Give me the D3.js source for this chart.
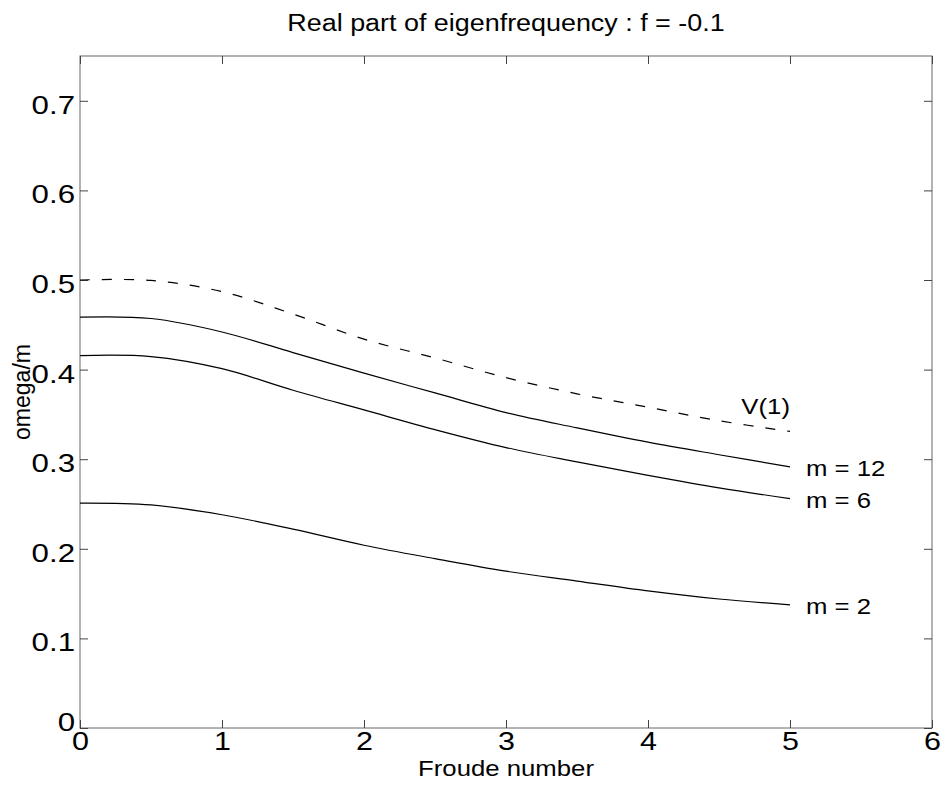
<!DOCTYPE html>
<html>
<head>
<meta charset="utf-8">
<script src="https://d3js.org/d3.v7.min.js"></script>
<style>
  body { margin: 0; background: #fff; }
  svg { display: block; }
  text { font-family: "Liberation Sans", Arial, Helvetica, sans-serif; fill: #000; }
</style>
</head>
<body>
<svg id="chart" width="942" height="791"></svg>
<script>
// values
const froude = [0, 0.5, 1, 1.5, 2, 2.5, 3, 3.5, 4, 4.5, 5];
const v1   = [0.500, 0.4995, 0.487, 0.462, 0.434, 0.413, 0.391, 0.373, 0.358, 0.343, 0.331];
const m12  = [0.4585, 0.457, 0.442, 0.419, 0.396, 0.374, 0.352, 0.335, 0.319, 0.305, 0.2915];
const m6   = [0.4156, 0.4145, 0.401, 0.377, 0.355, 0.333, 0.313, 0.297, 0.282, 0.268, 0.256];
const m2   = [0.251, 0.249, 0.238, 0.222, 0.204, 0.189, 0.175, 0.164, 0.153, 0.144, 0.1375];
const seriesNames = ["V(1)", "m = 12", "m = 6", "m = 2"];
const xTicks = [0, 1, 2, 3, 4, 5, 6];
const yTicks = [0, 0.1, 0.2, 0.3, 0.4, 0.5, 0.6, 0.7];

const plotL = 80, plotR = 932, plotT = 56, plotB = 728;
const sx = 1.17; // the scanned text is a bit wide

const svg = d3.select("#chart");
const x = d3.scaleLinear().domain([0, 6]).range([plotL, plotR]);
const y = d3.scaleLinear().domain([0, 0.75]).range([plotB, plotT]);

// frame
svg.append("rect")
  .attr("x", plotL).attr("y", plotT)
  .attr("width", plotR - plotL).attr("height", plotB - plotT)
  .attr("fill", "none").attr("stroke", "#666").attr("stroke-width", 1);

function styleAxis(g, size) {
  g.select(".domain").remove();
  g.selectAll(".tick line").attr("stroke", "#444").attr("stroke-width", 1);
  g.selectAll(".tick text")
    .attr("font-size", size)
    .attr("fill", "#000")
    .attr("font-family", "Liberation Sans, Arial, sans-serif");
}

// bottom axis
const gx = svg.append("g").attr("transform", `translate(0,${plotB})`)
  .call(d3.axisBottom(x).tickValues(xTicks).tickFormat(d3.format("d"))
    .tickSizeInner(-8).tickSizeOuter(0).tickPadding(4));
styleAxis(gx, 25);
gx.selectAll(".tick text").attr("transform", "scale(1.22,1)");

// left axis
const gy = svg.append("g").attr("transform", `translate(${plotL},0)`)
  .call(d3.axisLeft(y).tickValues(yTicks).tickFormat(d => d === 0 ? "0" : d.toFixed(1))
    .tickSizeInner(-8).tickSizeOuter(0).tickPadding(4));
styleAxis(gy, 25);
gy.selectAll(".tick text").attr("transform", "scale(1.25,1)").attr("dy", "0.5em");
gy.selectAll(".tick text").filter(d => d === 0).attr("dy", "0.1em");

// mirrored ticks top and right
const gt = svg.append("g").attr("transform", `translate(0,${plotT})`)
  .call(d3.axisTop(x).tickValues(xTicks).tickFormat("").tickSizeInner(-8).tickSizeOuter(0));
styleAxis(gt, 0);
const gr = svg.append("g").attr("transform", `translate(${plotR},0)`)
  .call(d3.axisRight(y).tickValues(yTicks).tickFormat("").tickSizeInner(-8).tickSizeOuter(0));
styleAxis(gr, 0);

// curves
const line = d3.line()
  .x(d => x(d[0]))
  .y(d => y(d[1]))
  .curve(d3.curveCatmullRom.alpha(0.5));

const allSeries = [v1, m12, m6, m2];
allSeries.forEach((s, i) => {
  svg.append("path")
    .datum(froude.map((f, k) => [f, s[k]]))
    .attr("d", line)
    .attr("fill", "none")
    .attr("stroke", "#000")
    .attr("stroke-width", 1.2)
    .attr("stroke-dasharray", i === 0 ? "10,12" : null);
});

function label(txt, px, py, size, anchor, rot) {
  const g = svg.append("g")
    .attr("transform", `translate(${px},${py})` + (rot ? ` rotate(${rot})` : ` scale(${sx},1)`));
  g.append("text")
    .attr("text-anchor", anchor)
    .attr("font-size", size)
    .text(txt);
}

// series labels
const lastF = froude[froude.length - 1];
label(seriesNames[0], x(lastF), y(v1[v1.length - 1]) - 17, 22, "end");
[m12, m6, m2].forEach((s, i) => {
  label(seriesNames[i + 1], x(lastF) + 16, y(s[s.length - 1]) + 9, 22, "start");
});

// titles
label("Real part of eigenfrequency : f = -0.1", (plotL + plotR) / 2, 31, 23, "middle");
label("Froude number", (plotL + plotR) / 2, 776, 22, "middle");
label("omega/m", 30, (plotT + plotB) / 2, 23, "middle", -90);
</script>
</body>
</html>
